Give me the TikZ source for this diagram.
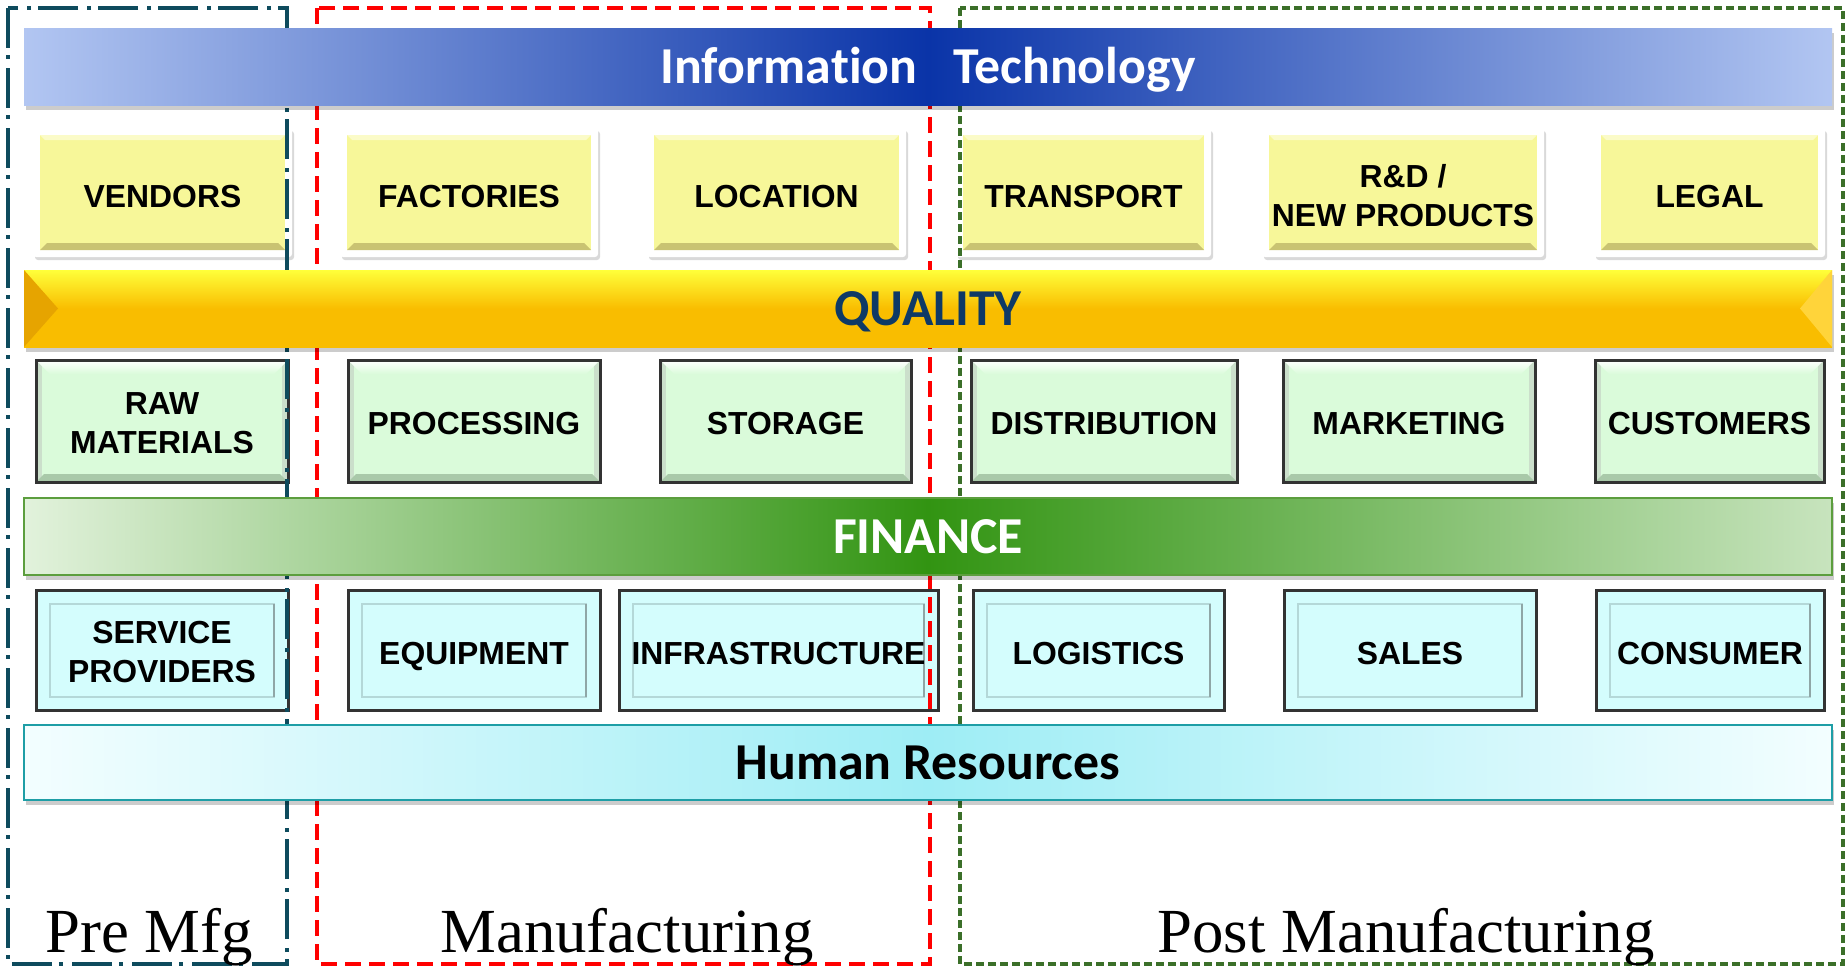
\documentclass[tikz,border=0pt]{standalone}
\usepackage{fontspec}
\setmainfont{Liberation Serif}
\newfontfamily\boxfont{Liberation Sans}
\newfontfamily\barfont[Ligatures={NoCommon,NoContextual}]{Carlito}
\usetikzlibrary{shadows}

\definecolor{yfill}{HTML}{F7F799}
\definecolor{ybevel}{HTML}{C9C372}
\definecolor{ytop}{HTML}{FBFBC8}
\definecolor{gfill}{HTML}{DAFBDA}
\definecolor{gbevel}{HTML}{A9C9A9}
\definecolor{cfill}{HTML}{D4FDFD}
\definecolor{cinner}{HTML}{B4D8D8}
\definecolor{cinnerdark}{HTML}{8FA6A6}
\definecolor{boxline}{HTML}{333333}
\definecolor{itlight}{HTML}{B2C6F2}
\definecolor{itdark}{HTML}{0A34A8}
\definecolor{qtop}{HTML}{FFFF3A}
\definecolor{qbot}{HTML}{F9BD00}
\definecolor{qleft}{HTML}{E6A400}
\definecolor{qright}{HTML}{FFD43A}
\definecolor{qtext}{HTML}{0E3966}
\definecolor{finlight}{HTML}{E2F2DC}
\definecolor{findark}{HTML}{329412}
\definecolor{finline}{HTML}{5C9E3E}
\definecolor{hrlight}{HTML}{F3FEFF}
\definecolor{hrdark}{HTML}{9EEDF5}
\definecolor{hrline}{HTML}{1E9EA6}
\definecolor{preline}{HTML}{0E4B5D}
\definecolor{mfgline}{HTML}{FF0000}
\definecolor{postline}{HTML}{3B6F29}

\tikzset{
  boxtext/.style={font=\boxfont\bfseries\fontsize{32}{39}\selectfont,align=center,inner sep=0pt},
  oneline/.style={text height=#1,text depth=0bp},
  ybox/.style={boxtext,minimum height=129bp,fill=white,rounded corners=3bp,
    general shadow={fill=black!15,shadow xshift=2bp,shadow yshift=-3bp},
    path picture={
      \coordinate (ppsw) at (path picture bounding box.south west);
      \coordinate (ppne) at (path picture bounding box.north east);
      \fill[yfill,sharp corners] ([shift={(7bp,7bp)}]ppsw) rectangle ([shift={(-7bp,-7bp)}]ppne);
      \fill[ytop,sharp corners] ([shift={(7bp,-7bp)}]ppsw |- ppne) -- ++(5bp,-5bp) -- ([shift={(-12bp,-12bp)}]ppne) -- ([shift={(-7bp,-7bp)}]ppne) -- cycle;
      \fill[ybevel,sharp corners] ([shift={(7bp,7bp)}]ppsw) -- ++(7bp,7bp) -- ([shift={(-14bp,14bp)}]ppsw -| ppne) -- ([shift={(-7bp,7bp)}]ppsw -| ppne) -- cycle;
    }},
  gbox/.style={boxtext,minimum height=122bp,fill=gfill,draw=boxline,line width=3bp,
    path picture={
      \coordinate (ppsw) at (path picture bounding box.south west);
      \coordinate (ppne) at (path picture bounding box.north east);
      \fill[gbevel!60] (ppsw) rectangle ([xshift=6bp]ppsw |- ppne);
      \fill[gbevel!60] ([xshift=-6bp]ppsw -| ppne) rectangle (ppne);
      \shade[top color=white,bottom color=gfill] (ppsw |- ppne) -- ++(14bp,-14bp) -- ([shift={(-14bp,-14bp)}]ppne) -- (ppne) -- cycle;
      \fill[gbevel] (ppsw) -- ++(8bp,8bp) -- ([shift={(-8bp,8bp)}]ppsw -| ppne) -- (ppsw -| ppne) -- cycle;
    }},
  cbox/.style={boxtext,minimum height=120bp,fill=cfill,draw=boxline,line width=3bp,
    path picture={
      \coordinate (ppsw) at (path picture bounding box.south west);
      \coordinate (ppne) at (path picture bounding box.north east);
      \draw[cinner,line width=2bp] ([shift={(14bp,13bp)}]ppsw) rectangle ([shift={(-14bp,-14bp)}]ppne);
      \draw[cinnerdark,line width=2bp] ([shift={(-14bp,-14bp)}]ppne) -- ([shift={(-14bp,13bp)}]ppsw -| ppne);
    }},
  bar/.style={font=\barfont\bfseries\fontsize{52}{60}\selectfont,inner sep=0pt,
    minimum width=1808bp,minimum height=77bp,text height=34bp,text depth=0bp,
    drop shadow={shadow xshift=2bp,shadow yshift=-5bp,fill=black,opacity=0.2}},
  itbar/.style={bar,left color=itlight,right color=itlight,middle color=itdark,text=white},
  qbar/.style={bar,top color=qtop,bottom color=qbot,middle color=qbot,text=qtext,
    path picture={
      \fill[qleft] (path picture bounding box.north west) -- ++(34bp,-38.5bp) -- (path picture bounding box.south west) -- cycle;
      \fill[qright] (path picture bounding box.north east) -- ++(-32bp,-38.5bp) -- (path picture bounding box.south east) -- cycle;
    }},
  finbar/.style={bar,left color=finlight,right color=finlight!85!findark,middle color=findark,draw=finline,line width=2.5bp,text=white},
  hrbar/.style={bar,minimum height=75bp,left color=hrlight,right color=hrlight,middle color=hrdark,draw=hrline,line width=2.5bp,text=black},
  preframe/.style={draw=preline,line width=3.5bp,dash pattern=on 40bp off 7bp on 4bp off 9bp},
  mfgframe/.style={draw=mfgline,line width=4bp,dash pattern=on 16bp off 8bp},
  postframe/.style={draw=postline,line width=3.2bp,dash pattern=on 8bp off 4bp},
  phase/.style={font=\fontsize{63}{70}\selectfont,inner sep=0pt,anchor=base}
}

\begin{document}
\begin{tikzpicture}

\fill[white] (0bp,0bp) rectangle (1847bp,-967bp);
\useasboundingbox (0bp,0bp) rectangle (1847bp,-967bp);

\node (VEND) at (162.5bp,-192.5bp)[ybox,oneline=30bp,minimum width=259bp] {VENDORS};
\node (FACT) at (469bp,-192.5bp)[ybox,oneline=30bp,minimum width=258bp] {FACTORIES};
\node (LOC) at (776.5bp,-192.5bp)[ybox,oneline=30bp,minimum width=259bp] {LOCATION};
\node (TRANS) at (1083.5bp,-192.5bp)[ybox,oneline=30bp,minimum width=255bp] {TRANSPORT};
\node (RD) at (1403bp,-192.5bp)[ybox,oneline=67bp,minimum width=282bp] {R\&D /\\NEW PRODUCTS};
\node (LEGAL) at (1709.5bp,-192.5bp)[ybox,oneline=30bp,minimum width=231bp] {LEGAL};

\node (RAW) at (162bp,-421bp)[gbox,oneline=65bp,minimum width=252bp] {RAW\\MATERIALS};
\node (PROC) at (474bp,-421bp)[gbox,oneline=26bp,minimum width=252bp] {PROCESSING};
\node (STOR) at (785.5bp,-421bp)[gbox,oneline=26bp,minimum width=251bp] {STORAGE};
\node (DIST) at (1104bp,-421bp)[gbox,oneline=26bp,minimum width=266bp] {DISTRIBUTION};
\node (MARK) at (1409bp,-421bp)[gbox,oneline=26bp,minimum width=252bp] {MARKETING};
\node (CUST) at (1709.5bp,-421bp)[gbox,oneline=26bp,minimum width=229bp] {CUSTOMERS};

\node (SERV) at (162bp,-650bp)[cbox,oneline=64bp,minimum width=252bp] {SERVICE\\PROVIDERS};
\node (EQUIP) at (474bp,-650bp)[cbox,oneline=29bp,minimum width=252bp] {EQUIPMENT};
\node (INFRA) at (778.5bp,-650bp)[cbox,oneline=29bp,minimum width=319bp] {INFRASTRUCTURE};
\node (LOGI) at (1098.5bp,-650bp)[cbox,oneline=29bp,minimum width=251bp] {LOGISTICS};
\node (SALES) at (1410bp,-650bp)[cbox,oneline=29bp,minimum width=252bp] {SALES};
\node (CONS) at (1710bp,-650bp)[cbox,oneline=29bp,minimum width=228bp] {CONSUMER};

\draw [preframe] (8bp,-8bp) rectangle (287bp,-964bp);
\draw [mfgframe] (317bp,-8bp) rectangle (930bp,-964bp);
\draw [postframe] (960bp,-8bp) rectangle (1843bp,-964bp);

\node (IT) at (928bp,-66.5bp)[itbar] {Information\hspace{36bp}Technology};
\node (QUAL) at (928bp,-308.5bp)[qbar] {QUALITY};
\node (FIN) at (928bp,-536.5bp)[finbar] {FINANCE};
\node (HR) at (928bp,-762.5bp)[hrbar] {Human Resources};

\node (PRE) at (149bp,-952bp)[phase] {Pre Mfg};
\node (MFG) at (627bp,-952bp)[phase] {Manufacturing};
\node (POST) at (1406bp,-952bp)[phase] {Post Manufacturing};
\end{tikzpicture}
\end{document}
